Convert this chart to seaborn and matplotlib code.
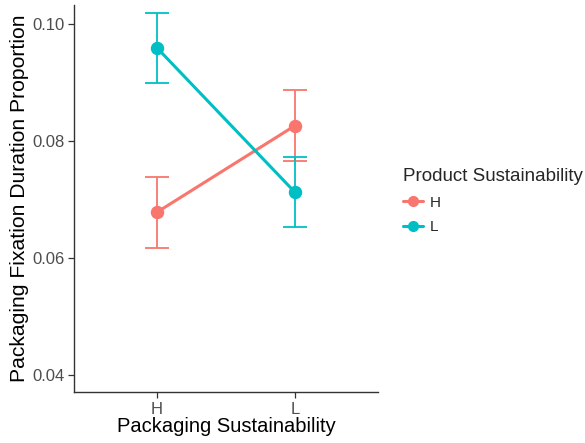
import matplotlib
matplotlib.use("Agg")
import matplotlib.pyplot as plt
import seaborn as sns
import pandas as pd
from matplotlib.lines import Line2D

# Cell means and error bar limits
packaging = ["H", "L"]
product_h_mean = [0.0678, 0.0826]
product_h_low = [0.0617, 0.0766]
product_h_high = [0.0738, 0.0887]
product_l_mean = [0.0959, 0.0712]
product_l_low = [0.0898, 0.0652]
product_l_high = [0.1019, 0.0773]

colors = {"H": "#F8766D", "L": "#00BFC4"}

rows = []
for prod, means, lows, highs in [("H", product_h_mean, product_h_low, product_h_high),
                                 ("L", product_l_mean, product_l_low, product_l_high)]:
    for pk, m, lo, hi in zip(packaging, means, lows, highs):
        rows.append({"Packaging": pk, "Product": prod, "mean": m, "low": lo, "high": hi})
df = pd.DataFrame(rows)

sns.set_theme(style="ticks")
plt.rcParams["font.family"] = ["Liberation Sans", "DejaVu Sans"]

fig = plt.figure(figsize=(5.85, 4.43), dpi=100)
ax = fig.add_axes([0.1265, 0.1151, 0.5195, 0.8736])

# Error bars with caps
xpos = {k: i for i, k in enumerate(packaging)}
cap = 0.085
for _, r in df.iterrows():
    x = xpos[r["Packaging"]]
    c = colors[r["Product"]]
    ax.vlines(x, r["low"], r["high"], color=c, lw=1.3, zorder=2)
    ax.hlines([r["low"], r["high"]], x - cap, x + cap, color=c, lw=1.3, zorder=2)

sns.pointplot(data=df, x="Packaging", y="mean", hue="Product", order=packaging,
              hue_order=["H", "L"], palette=colors, errorbar=None,
              markers="o", markersize=8, linewidth=2.2, ax=ax, legend=False)

ax.set_xlim(-0.6, 1.6)
ax.set_ylim(0.0371, 0.1032)
ax.set_yticks([0.04, 0.06, 0.08, 0.10])
ax.set_yticklabels(["0.04", "0.06", "0.08", "0.10"])
ax.tick_params(axis="both", colors="#333333", labelcolor="#4D4D4D", labelsize=12,
               length=4, width=0.9, pad=3)
for s in ["top", "right"]:
    ax.spines[s].set_visible(False)
for s in ["left", "bottom"]:
    ax.spines[s].set_color("#333333")
    ax.spines[s].set_linewidth(1.0)

ax.set_xlabel("Packaging Sustainability", fontsize=14.5, color="black", labelpad=0)
ax.set_ylabel("Packaging Fixation Duration Proportion", fontsize=15.2, color="black", labelpad=2)

handles = [Line2D([0], [0], color=colors[k], lw=2.2, marker="o", markersize=7) for k in ["H", "L"]]
leg = fig.legend(handles, ["H", "L"], title="Product Sustainability",
                 loc="upper left", bbox_to_anchor=(0.678, 0.635), frameon=False,
                 fontsize=11, title_fontsize=13.5, handlelength=1.3, handletextpad=0.5,
                 labelspacing=0.7, borderaxespad=0)
leg._legend_box.align = "left"

fig.savefig("out.png", dpi=100)
